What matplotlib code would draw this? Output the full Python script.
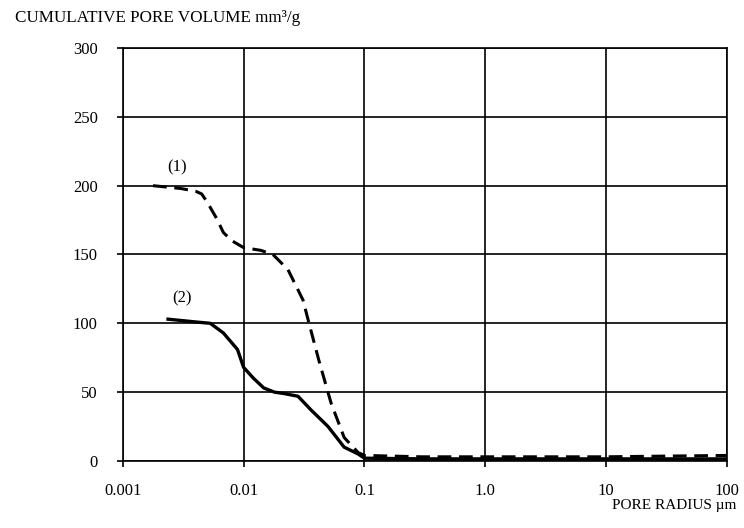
import matplotlib
matplotlib.use("Agg")
import matplotlib.pyplot as plt

plt.rcParams['font.family'] = ['Liberation Serif', 'DejaVu Serif']

# curve (1), dashed
r1 = [0.00178, 0.003, 0.004, 0.0045, 0.005, 0.006, 0.0068, 0.008, 0.01, 0.0139, 0.0175,
      0.0233, 0.031, 0.0348, 0.042, 0.053, 0.068, 0.089, 0.1, 0.3, 1.0, 3.0, 10, 30, 100]
v1 = [200, 198, 196, 194, 188, 176, 166, 160, 155, 153, 150,
      139, 117, 100, 73, 42, 17, 6, 4, 3, 3, 3, 3, 3.5, 4]

# curve (2), solid
r2 = [0.00237, 0.004, 0.0053, 0.0068, 0.0089, 0.01, 0.0121, 0.0147, 0.018, 0.0215,
      0.0282, 0.0362, 0.05, 0.068, 0.089, 0.1, 0.3, 1.0, 10, 100]
v2 = [103, 101, 100, 93, 81, 68, 60, 53, 50, 49,
      47, 37, 25, 10, 5, 2, 1.5, 1.5, 1.5, 1.5]

xticks = [0.001, 0.01, 0.1, 1.0, 10, 100]
xtick_labels = ['0.001', '0.01', '0.1', '1.0', '10', '100']
yticks = [0, 50, 100, 150, 200, 250, 300]

fig = plt.figure(figsize=(7.44, 5.28), dpi=100)
ax = fig.add_axes([0.165, 0.127, 0.812, 0.782])

ax.plot(r1, v1, color='black', lw=2.2, linestyle=(0, (4.5, 2.5)))
ax.plot(r2, v2, color='black', lw=2.4)

ax.set_xscale('log')
ax.set_xlim(0.001, 100)
ax.set_ylim(0, 300)
ax.set_xticks(xticks)
ax.set_xticklabels(xtick_labels)
ax.minorticks_off()
ax.set_yticks(yticks)
ax.grid(True, color='black', lw=1.2)
for s in ax.spines.values():
    s.set_linewidth(1.2)
ax.tick_params(direction='out', length=4, width=1.2, labelsize=12)
ax.tick_params(axis='y', pad=14)
ax.tick_params(axis='x', pad=12)

ax.text(0.0028, 213, '(1)', fontsize=12, ha='center', va='center')
ax.text(0.0031, 118, '(2)', fontsize=12, ha='center', va='center')

fig.text(0.02, 0.965, 'CUMULATIVE PORE VOLUME mm³/g', fontsize=12.3, ha='left', va='center')
fig.text(0.99, 0.042, 'PORE RADIUS µm', fontsize=11, ha='right', va='center')

fig.savefig('out.png', dpi=100)
